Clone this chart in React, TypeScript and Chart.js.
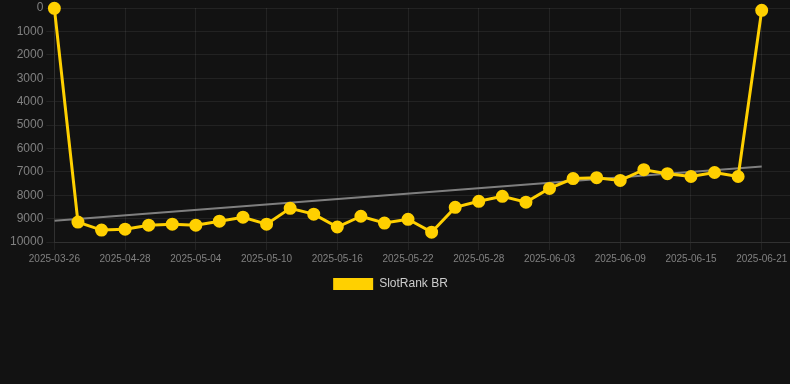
import React, { useEffect, useRef } from "react";
import { Chart, registerables } from "chart.js";

Chart.register(...registerables);

const dates = [
  "2025-03-26", "2025-04-24", "2025-04-26", "2025-04-28", "2025-04-30", "2025-05-02",
  "2025-05-04", "2025-05-06", "2025-05-08", "2025-05-10", "2025-05-12", "2025-05-14",
  "2025-05-16", "2025-05-18", "2025-05-20", "2025-05-22", "2025-05-24", "2025-05-26",
  "2025-05-28", "2025-05-30", "2025-06-01", "2025-06-03", "2025-06-05", "2025-06-07",
  "2025-06-09", "2025-06-11", "2025-06-13", "2025-06-15", "2025-06-17", "2025-06-19",
  "2025-06-21",
];

const ranks = [
  15, 9150, 9490, 9450, 9280, 9240, 9280, 9110, 8940, 9240, 8560, 8810,
  9360, 8900, 9190, 9030, 9580, 8520, 8260, 8050, 8300, 7710, 7290, 7250,
  7370, 6910, 7080, 7200, 7030, 7200, 100,
];

const trendStart = 9090;
const trendEnd = 6770;

const seriesName = "SlotRank BR";

const legendShift = {
  id: "legendShift",
  afterLayout(chart: any) {
    if (chart.legend) {
      chart.legend.right -= 16;
    }
  },
};

export default function App() {
  const ref = useRef<HTMLCanvasElement | null>(null);

  useEffect(() => {
    document.body.style.margin = "0";
    document.body.style.background = "#121212";
    const ctx = ref.current;
    if (!ctx) return;
    const grid = "rgba(255,255,255,0.07)";
    const font = "Liberation Sans, Arial, sans-serif";
    const baseLabels = (Chart.defaults.plugins.legend.labels as any).generateLabels;
    const chart = new Chart(ctx, {
      type: "line",
      plugins: [legendShift],
      data: {
        datasets: [
          {
            label: seriesName,
            data: ranks.map((v, i) => ({ x: i, y: v })),
            borderColor: "#FFD000",
            backgroundColor: "#FFD000",
            pointBackgroundColor: "#FFD000",
            pointBorderColor: "#FFD000",
            borderWidth: 3,
            pointRadius: 5,
            tension: 0,
            clip: false,
          },
          {
            label: "trend",
            data: [
              { x: 0, y: trendStart },
              { x: dates.length - 1, y: trendEnd },
            ],
            borderColor: "rgba(140,140,140,0.9)",
            borderWidth: 2,
            pointRadius: 0,
            tension: 0,
          },
        ],
      },
      options: {
        animation: false,
        responsive: true,
        maintainAspectRatio: false,
        layout: { padding: { left: 7 }, autoPadding: false },
        plugins: {
          legend: {
            position: "bottom",
            labels: {
              color: "#cccccc",
              boxWidth: 40,
              font: { size: 12, family: font },
              generateLabels: (c: any) =>
                baseLabels(c).map((l: any) => ({ ...l, lineWidth: 0 })),
              filter: (item) => item.text === seriesName,
            },
          },
          tooltip: { enabled: false },
        },
        scales: {
          x: {
            type: "linear",
            min: 0,
            max: 31.2,
            grid: { color: grid },
            border: { color: grid },
            afterFit: (scale: any) => {
              scale.paddingRight = 0;
            },
            ticks: {
              stepSize: 3,
              includeBounds: false,
              maxRotation: 0,
              autoSkip: false,
              color: "#808080",
              font: { size: 10, family: font },
              callback: (v) => dates[Number(v)] ?? "",
            },
          },
          y: {
            reverse: true,
            min: 0,
            max: 10000,
            grid: { color: grid },
            border: { color: grid },
            afterFit: (scale: any) => {
              scale.paddingTop = 8;
            },
            ticks: {
              stepSize: 1000,
              color: "#808080",
              font: { size: 12, family: font },
              callback: (v) => String(v),
            },
          },
        },
      },
    });
    return () => chart.destroy();
  }, []);

  return (
    <div style={{ width: 790, height: 300, position: "relative" }}>
      <canvas ref={ref} />
    </div>
  );
}
